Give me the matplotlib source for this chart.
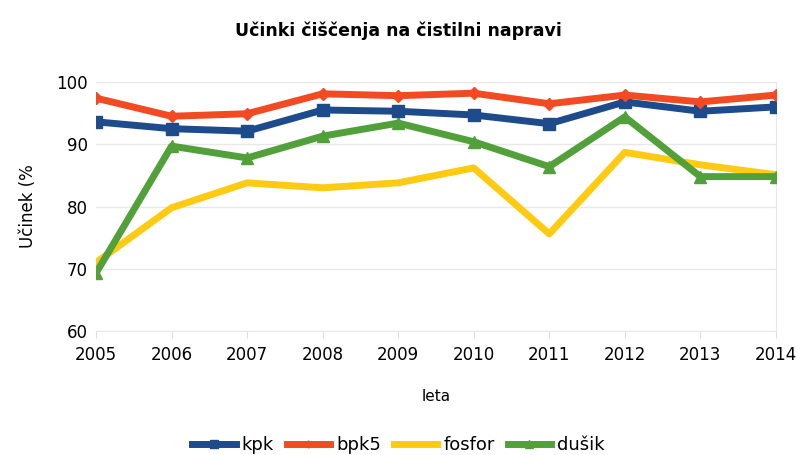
import numpy as np
import matplotlib.pyplot as plt

leta = [2005, 2006, 2007, 2008, 2009, 2010, 2011, 2012, 2013, 2014]
kpk = [93.6, 92.5, 92.1, 95.5, 95.3, 94.7, 93.3, 96.8, 95.3, 96.0]
bpk5 = [97.4, 94.5, 94.9, 98.1, 97.8, 98.2, 96.5, 97.9, 96.8, 97.9]
fosfor = [71.0, 79.8, 83.8, 83.0, 83.8, 86.2, 75.6, 88.7, 86.7, 85.1]
dusik = [69.3, 89.7, 87.8, 91.3, 93.4, 90.4, 86.4, 94.4, 84.8, 84.8]

plt.rcParams['font.family'] = ['DejaVu Sans']

fig = plt.figure(figsize=(7.97, 4.55), dpi=100)
ax = fig.add_axes([0.1205, 0.2725, 0.853, 0.5473])

ax.plot(leta, fosfor, color='#fecb12', lw=5, label='fosfor', zorder=2)
ax.plot(leta, dusik, color='#52a03a', lw=5, marker='^', ms=9, label='dušik', zorder=3)
ax.plot(leta, kpk, color='#1d4b8c', lw=5, marker='s', ms=9, label='kpk', zorder=4)
ax.plot(leta, bpk5, color='#f24a22', lw=5, marker='D', ms=6, label='bpk5', zorder=5)

ax.set_xlim(2005, 2014)
ax.set_ylim(60, 100)
ax.set_xticks(leta)
ax.set_yticks([60, 70, 80, 90, 100])
ax.grid(axis='y', color='#e8e8e8', lw=1)
ax.set_axisbelow(True)
for s in ['top', 'left']:
    ax.spines[s].set_visible(False)
ax.spines['right'].set_color('#e8e8e8')
ax.spines['bottom'].set_color('#e8e8e8')
ax.tick_params(axis='x', length=5, color='#dddddd', labelsize=12, pad=6)
ax.tick_params(axis='y', length=0, labelsize=12, pad=6)

ax.set_xlabel('leta', fontsize=11, labelpad=18)
ax.set_ylabel('Učinek (%', fontsize=12, labelpad=14)
fig.text(0.5, 0.933, 'Učinki čiščenja na čistilni napravi', ha='center', va='center',
         fontsize=12.5, fontweight='bold')

h, l = ax.get_legend_handles_labels()
order = [2, 3, 0, 1]
ax.legend([h[i] for i in order], [l[i] for i in order], loc='center',
          bbox_to_anchor=(0.5, 0.022), bbox_transform=fig.transFigure, ncol=4,
          frameon=False, fontsize=13, handlelength=2.4, columnspacing=0.7,
          handletextpad=0.35, markerscale=0.6)

fig.savefig('out.png', dpi=100)
